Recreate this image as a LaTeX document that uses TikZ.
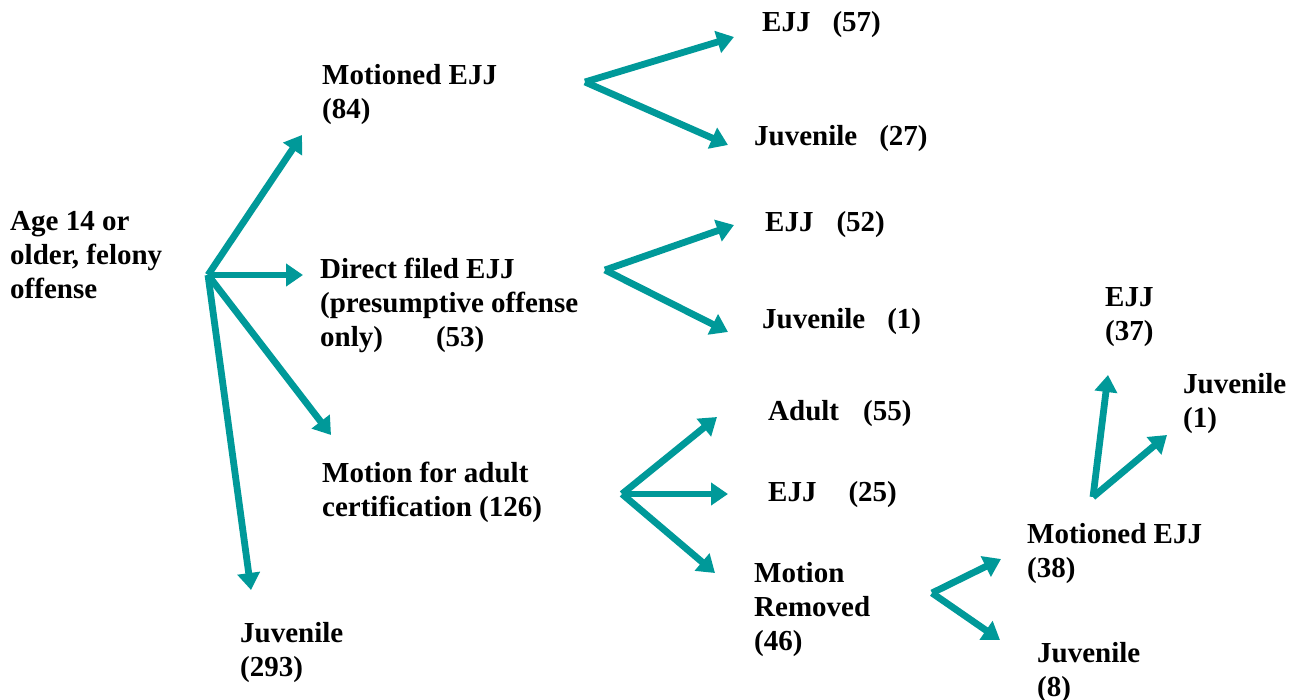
\documentclass[tikz,border=0pt]{standalone}
\usepackage{fontspec}
\setmainfont{Liberation Serif}
\usetikzlibrary{arrows.meta}
\definecolor{arrteal}{RGB}{0,153,153}
\begin{document}
\begin{tikzpicture}[x=1pt,y=-1pt,
  arr/.style={draw=arrteal, line width=6.8pt, -{Triangle[length=17pt,width=22pt]}},
  lbl/.style={anchor=base west, inner sep=0pt, align=left, font=\fontsize{29}{34}\selectfont\bfseries}]
\useasboundingbox (0,0) rectangle (1290,700);
% labels (y = baseline of the last line)
\node[lbl] (age) at (10,299) {Age 14 or\\older, felony\\offense};
\node[lbl] (mejj) at (322,119) {Motioned EJJ\\(84)};
\node[lbl] (dfe) at (320,347) {Direct filed EJJ\\(presumptive offense\\only)\hspace{53pt}(53)};
\node[lbl] (mac) at (322,516) {Motion for adult\\certification (126)};
\node[lbl] (juvA) at (240,676) {Juvenile\\(293)};
\node[lbl] (ejjA) at (762,32) {EJJ\hspace{22pt}(57)};
\node[lbl] (juvB) at (754,146) {Juvenile\hspace{22pt}(27)};
\node[lbl] (ejjB) at (765,232) {EJJ\hspace{23pt}(52)};
\node[lbl] (juvC) at (762,329) {Juvenile\hspace{22pt}(1)};
\node[lbl] (adult) at (768,420) {Adult\hspace{24pt}(55)};
\node[lbl] (ejjC) at (768,501) {EJJ\hspace{32pt}(25)};
\node[lbl] (mrem) at (754,650) {Motion\\Removed\\(46)};
\node[lbl] (mejjB) at (1027,577) {Motioned EJJ\\(38)};
\node[lbl] (juvD) at (1037,696) {Juvenile\\(8)};
\node[lbl] (ejjD) at (1105,341) {EJJ\\(37)};
\node[lbl] (juvE) at (1183,427) {Juvenile\\(1)};
% junctions and tips
\coordinate (o1) at (208,275);
\coordinate (t1a) at (302,135);
\coordinate (t1b) at (303,275);
\coordinate (t1c) at (331,435);
\coordinate (t1d) at (251,590);
\coordinate (o2) at (585,82);
\coordinate (t2a) at (734,37);
\coordinate (t2b) at (728,145);
\coordinate (o3) at (605,270);
\coordinate (t3a) at (734,225);
\coordinate (t3b) at (728,332);
\coordinate (o4) at (622,494);
\coordinate (t4a) at (717,417);
\coordinate (t4b) at (728,494);
\coordinate (t4c) at (715,573);
\coordinate (o5) at (932,593);
\coordinate (t5a) at (1001,559);
\coordinate (t5b) at (1000,640);
\coordinate (o6) at (1093,497);
\coordinate (t6a) at (1108,375);
\coordinate (t6b) at (1167,435);
% arrows
\draw[arr] (o1) -- (t1a);
\draw[arr] (o1) -- (t1b);
\draw[arr] (o1) -- (t1c);
\draw[arr] (o1) -- (t1d);
\draw[arr] (o2) -- (t2a);
\draw[arr] (o2) -- (t2b);
\draw[arr] (o3) -- (t3a);
\draw[arr] (o3) -- (t3b);
\draw[arr] (o4) -- (t4a);
\draw[arr] (o4) -- (t4b);
\draw[arr] (o4) -- (t4c);
\draw[arr] (o5) -- (t5a);
\draw[arr] (o5) -- (t5b);
\draw[arr] (o6) -- (t6a);
\draw[arr] (o6) -- (t6b);
\end{tikzpicture}
\end{document}
